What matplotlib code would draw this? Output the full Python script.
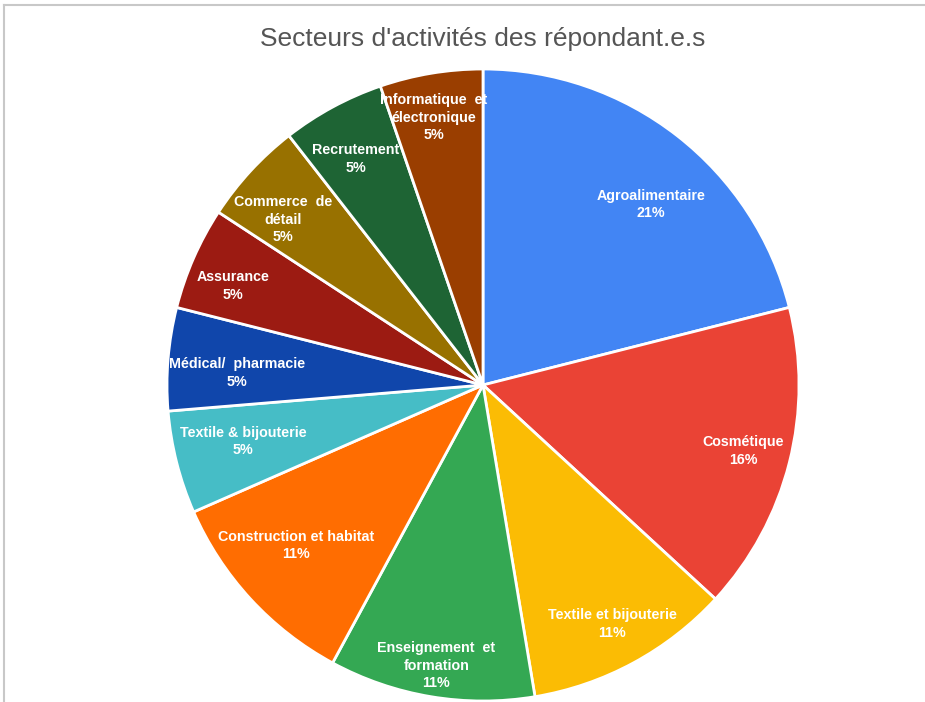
import numpy as np
import matplotlib.pyplot as plt
from matplotlib.lines import Line2D

plt.rcParams['font.family'] = ['Liberation Sans', 'DejaVu Sans']

# data (19 respondents)
sectors = ['Agroalimentaire', 'Cosmétique', 'Textile et bijouterie',
           'Enseignement  et\nformation', 'Construction et habitat',
           'Textile & bijouterie', 'Médical/  pharmacie', 'Assurance',
           'Commerce  de\ndétail', 'Recrutement', 'Informatique  et\nélectronique']
counts = [4, 3, 2, 2, 2, 1, 1, 1, 1, 1, 1]
colors = ['#4285F4', '#EA4335', '#FBBC04', '#34A853', '#FF6D01', '#46BDC6',
          '#1046AB', '#9C1B12', '#987100', '#1E6434', '#9A3E00']
# label placement: radius fraction and angle tweak (degrees)
label_r = [0.78, 0.85, 0.86, 0.90, 0.78, 0.78, 0.78, 0.85, 0.82, 0.82, 0.86]
label_da = [-5, 0, 0, 0, -2, -1, 2, 2, 3, 1, 1]

fig = plt.figure(figsize=(9.25, 7.02), dpi=100)
W, H = 925, 702
cx, cy, R = 483, 385, 316
ax = fig.add_axes([(cx - R) / W, (H - cy - R) / H, 2 * R / W, 2 * R / H])

wedges, _ = ax.pie(counts, colors=colors, startangle=90, counterclock=False,
                   radius=1.0, wedgeprops=dict(edgecolor='white', linewidth=2))
ax.set_xlim(-1, 1)
ax.set_ylim(-1, 1)
ax.set_aspect('equal')
ax.axis('off')

total = sum(counts)
for w, name, c, r, da in zip(wedges, sectors, counts, label_r, label_da):
    ang = np.deg2rad((w.theta1 + w.theta2) / 2 + da)
    pct = round(100 * c / total)
    ax.text(r * np.cos(ang), r * np.sin(ang), f'{name}\n{pct}%',
            ha='center', va='center', color='white', fontsize=10.3,
            fontweight='bold', linespacing=1.33)

fig.text(cx / W, 1 - 39 / H, "Secteurs d'activités des répondant.e.s",
         ha='center', va='center', fontsize=19, color='#555555')

# border of the screenshot frame
fig.add_artist(Line2D([4 / W, 1], [1 - 5 / H, 1 - 5 / H], color='#c8c8c8', lw=1.5))
fig.add_artist(Line2D([4 / W, 4 / W], [0, 1 - 5 / H], color='#c8c8c8', lw=1.5))

fig.savefig('out.png', dpi=100)
